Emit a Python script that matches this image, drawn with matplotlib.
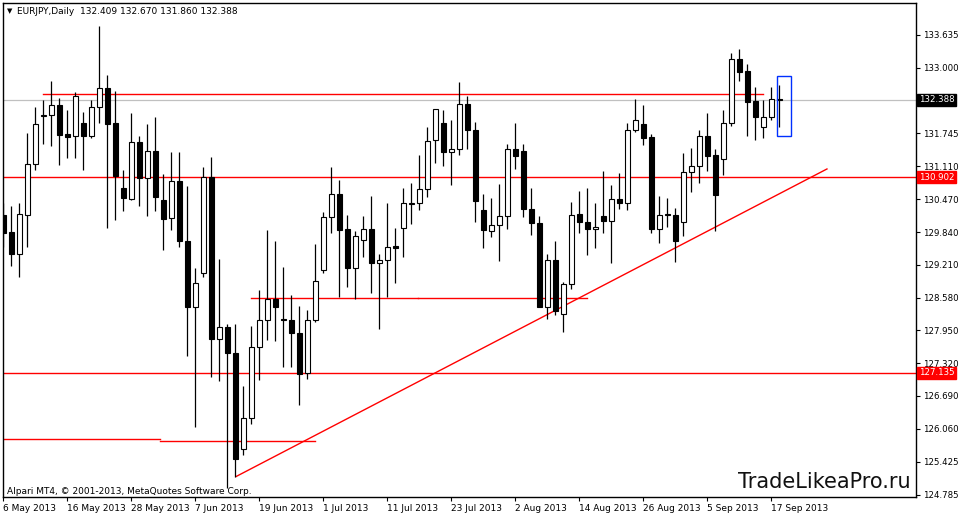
import matplotlib
matplotlib.use("Agg")
import matplotlib.pyplot as plt
from matplotlib.patches import Rectangle
import pandas as pd

opens = [130.17,129.84,129.43,130.18,131.15,132.08,132.09,132.28,131.73,131.70,
         131.94,131.70,132.24,132.61,131.94,130.69,130.47,131.57,130.89,131.40,
         130.46,130.11,130.82,129.67,128.40,129.05,130.90,127.79,128.01,127.51,
         125.66,126.26,127.63,128.16,128.55,128.16,128.16,127.90,127.13,128.16,
         129.11,130.14,130.58,129.90,129.15,129.69,129.90,129.24,129.31,129.57,
         129.93,130.39,130.40,130.67,131.61,131.95,131.38,131.44,132.30,131.80,
         130.26,129.87,129.97,130.15,131.44,131.40,130.28,130.01,128.41,129.31,
         128.26,128.84,130.20,130.03,129.91,130.15,130.06,130.47,130.41,131.80,
         131.92,131.67,129.90,130.18,130.18,130.04,130.99,131.11,131.69,131.32,
         131.24,131.95,133.17,132.94,132.37,131.86,132.06,132.409]
highs = [130.40,130.35,130.40,131.74,132.24,132.38,132.75,132.42,132.19,132.53,
         132.15,132.38,133.80,132.87,132.56,131.04,132.13,131.69,131.92,132.05,
         130.96,131.38,131.38,130.72,129.15,131.10,131.29,129.33,128.07,128.07,
         126.88,128.04,128.73,129.88,129.68,129.18,128.63,128.42,128.34,129.61,
         130.22,131.10,130.85,130.17,129.87,130.15,130.54,129.43,130.41,129.92,
         130.69,130.78,131.33,131.86,132.22,132.20,132.00,132.73,132.47,131.96,
         130.58,130.50,130.77,131.54,131.94,131.54,130.70,130.15,129.42,129.67,
         128.88,130.43,130.63,130.70,130.40,131.02,130.75,130.97,131.94,132.40,
         132.29,131.73,130.54,130.49,130.30,131.36,131.46,131.81,132.13,131.45,
         132.19,133.28,133.36,133.08,132.64,132.38,132.64,132.670]
lows = [129.56,129.19,128.97,129.56,131.04,131.54,131.50,131.14,131.26,131.26,
        131.04,131.66,131.95,129.93,130.08,130.24,130.46,130.35,130.15,130.24,
        129.49,129.88,129.56,127.45,126.10,128.97,127.06,126.98,124.91,125.14,
        125.55,126.16,127.00,127.77,127.75,127.25,127.25,126.52,127.01,128.12,
        129.05,129.82,128.60,128.79,128.55,129.37,128.68,127.97,128.60,128.87,
        129.37,130.00,130.26,130.51,131.18,131.11,130.74,131.33,131.44,130.04,
        129.54,129.74,129.29,129.90,131.05,130.13,129.78,128.41,128.18,128.24,
        127.93,128.75,129.82,129.40,129.54,129.82,129.25,130.29,130.26,131.76,
        131.51,129.82,129.63,129.95,129.27,129.76,130.62,130.79,131.01,129.87,
        130.94,131.88,132.74,131.70,131.61,131.66,132.00,131.860]
closes = [129.83,129.43,130.19,131.15,131.92,132.10,132.28,131.72,131.68,132.47,
          131.70,132.24,132.61,131.93,130.93,130.49,131.57,130.89,131.40,130.52,
          130.10,130.82,129.67,128.40,128.86,130.90,127.79,128.01,127.51,125.47,
          126.27,127.63,128.16,128.55,128.40,128.15,127.90,127.11,128.16,128.91,
          130.14,130.58,129.88,129.15,129.76,129.90,129.24,129.31,129.56,129.54,
          130.40,130.40,130.67,131.59,132.22,131.38,131.44,132.30,131.80,130.45,
          129.88,129.97,130.15,131.44,131.30,130.28,130.01,128.41,129.31,128.33,
          128.84,130.18,130.03,129.91,129.95,130.06,130.47,130.41,131.80,132.00,
          131.65,129.91,130.18,130.19,129.68,130.99,131.11,131.69,131.31,130.56,
          131.95,133.17,132.93,132.35,132.06,132.06,132.40,132.388]

dates = pd.bdate_range("2013-05-06", periods=len(opens))
ytick_vals = [133.635,133.000,131.745,131.110,130.470,129.840,129.210,128.580,
              127.950,127.320,126.690,126.060,125.425,124.785]
level_lines = [130.902, 127.135]
current_price = 132.388

fig = plt.figure(figsize=(9.61, 5.18), dpi=100)
ax = fig.add_axes([3/961, 21/518, 913/961, 494/518])
ax.set_xlim(-0.04, 114.1)
ax.set_ylim(124.746, 134.25)

n = len(opens)
for i in range(n):
    o, h, l, c = opens[i], highs[i], lows[i], closes[i]
    ax.vlines(i, l, h, color="black", lw=0.9, zorder=3)
    bot, top = min(o, c), max(o, c)
    hgt = max(top - bot, 0.012)
    fc = "white" if c >= o else "black"
    ax.add_patch(Rectangle((i - 0.31, bot), 0.62, hgt, facecolor=fc,
                           edgecolor="black", lw=0.8, zorder=4))

ax.axhline(current_price, color="#c0c0c0", lw=0.9, zorder=1)
for lv in level_lines:
    ax.axhline(lv, color="red", lw=1.0, zorder=2)
ax.plot([5, 95], [132.50, 132.50], color="red", lw=1.0, zorder=2)
ax.plot([-0.04, 19.6], [125.855, 125.855], color="red", lw=1.0, zorder=2)
ax.plot([19.6, 39.0], [125.83, 125.83], color="red", lw=1.0, zorder=2)
ax.plot([30.95, 51.9], [128.57, 128.57], color="red", lw=1.0, zorder=2)
ax.plot([51.9, 73.0], [128.58, 128.58], color="red", lw=1.0, zorder=2)
ax.plot([29.1, 102.97], [125.14, 131.057], color="red", lw=1.0, zorder=2)
ax.add_patch(Rectangle((96.75, 131.698), 1.75, 1.148, fill=False,
                       edgecolor="#0030ff", lw=1.0, zorder=5))

for s in ax.spines.values():
    s.set_color("black"); s.set_linewidth(1.0)
ax.yaxis.tick_right()
ax.set_yticks(ytick_vals)
ax.set_yticklabels([f"{v:.3f}" for v in ytick_vals], fontsize=6.2)
ax.tick_params(axis="y", direction="out", length=3, pad=2)
xt = list(range(0, n, 8))
ax.set_xticks(xt)
ax.set_xticklabels([f"{d.day} {d.strftime('%b %Y')}" for d in dates[xt]],
                   fontsize=6.5, ha="left")
ax.tick_params(axis="x", direction="out", length=3, pad=2)

def box(price, col):
    ax.text(1.003, price, f"{price:.3f}", transform=ax.get_yaxis_transform(),
            fontsize=6.2, color="white", va="center", ha="left", zorder=10,
            bbox=dict(boxstyle="square,pad=0.15", fc=col, ec=col), clip_on=False)
box(current_price, "black")
for lv in level_lines:
    box(lv, "red")

fig.text(7/961, 1 - 11/518, "▼", fontsize=5, va="center")
fig.text(17/961, 1 - 11/518, "EURJPY,Daily  132.409 132.670 131.860 132.388",
         fontsize=6.5, va="center")
fig.text(7/961, 1 - 491/518, "Alpari MT4, © 2001-2013, MetaQuotes Software Corp.",
         fontsize=6.5, va="center")
fig.text(738/961, 1 - 482/518, "TradeLikeaPro.ru", fontsize=15, va="center",
         color="#111111")

fig.savefig("out.png", dpi=100)
